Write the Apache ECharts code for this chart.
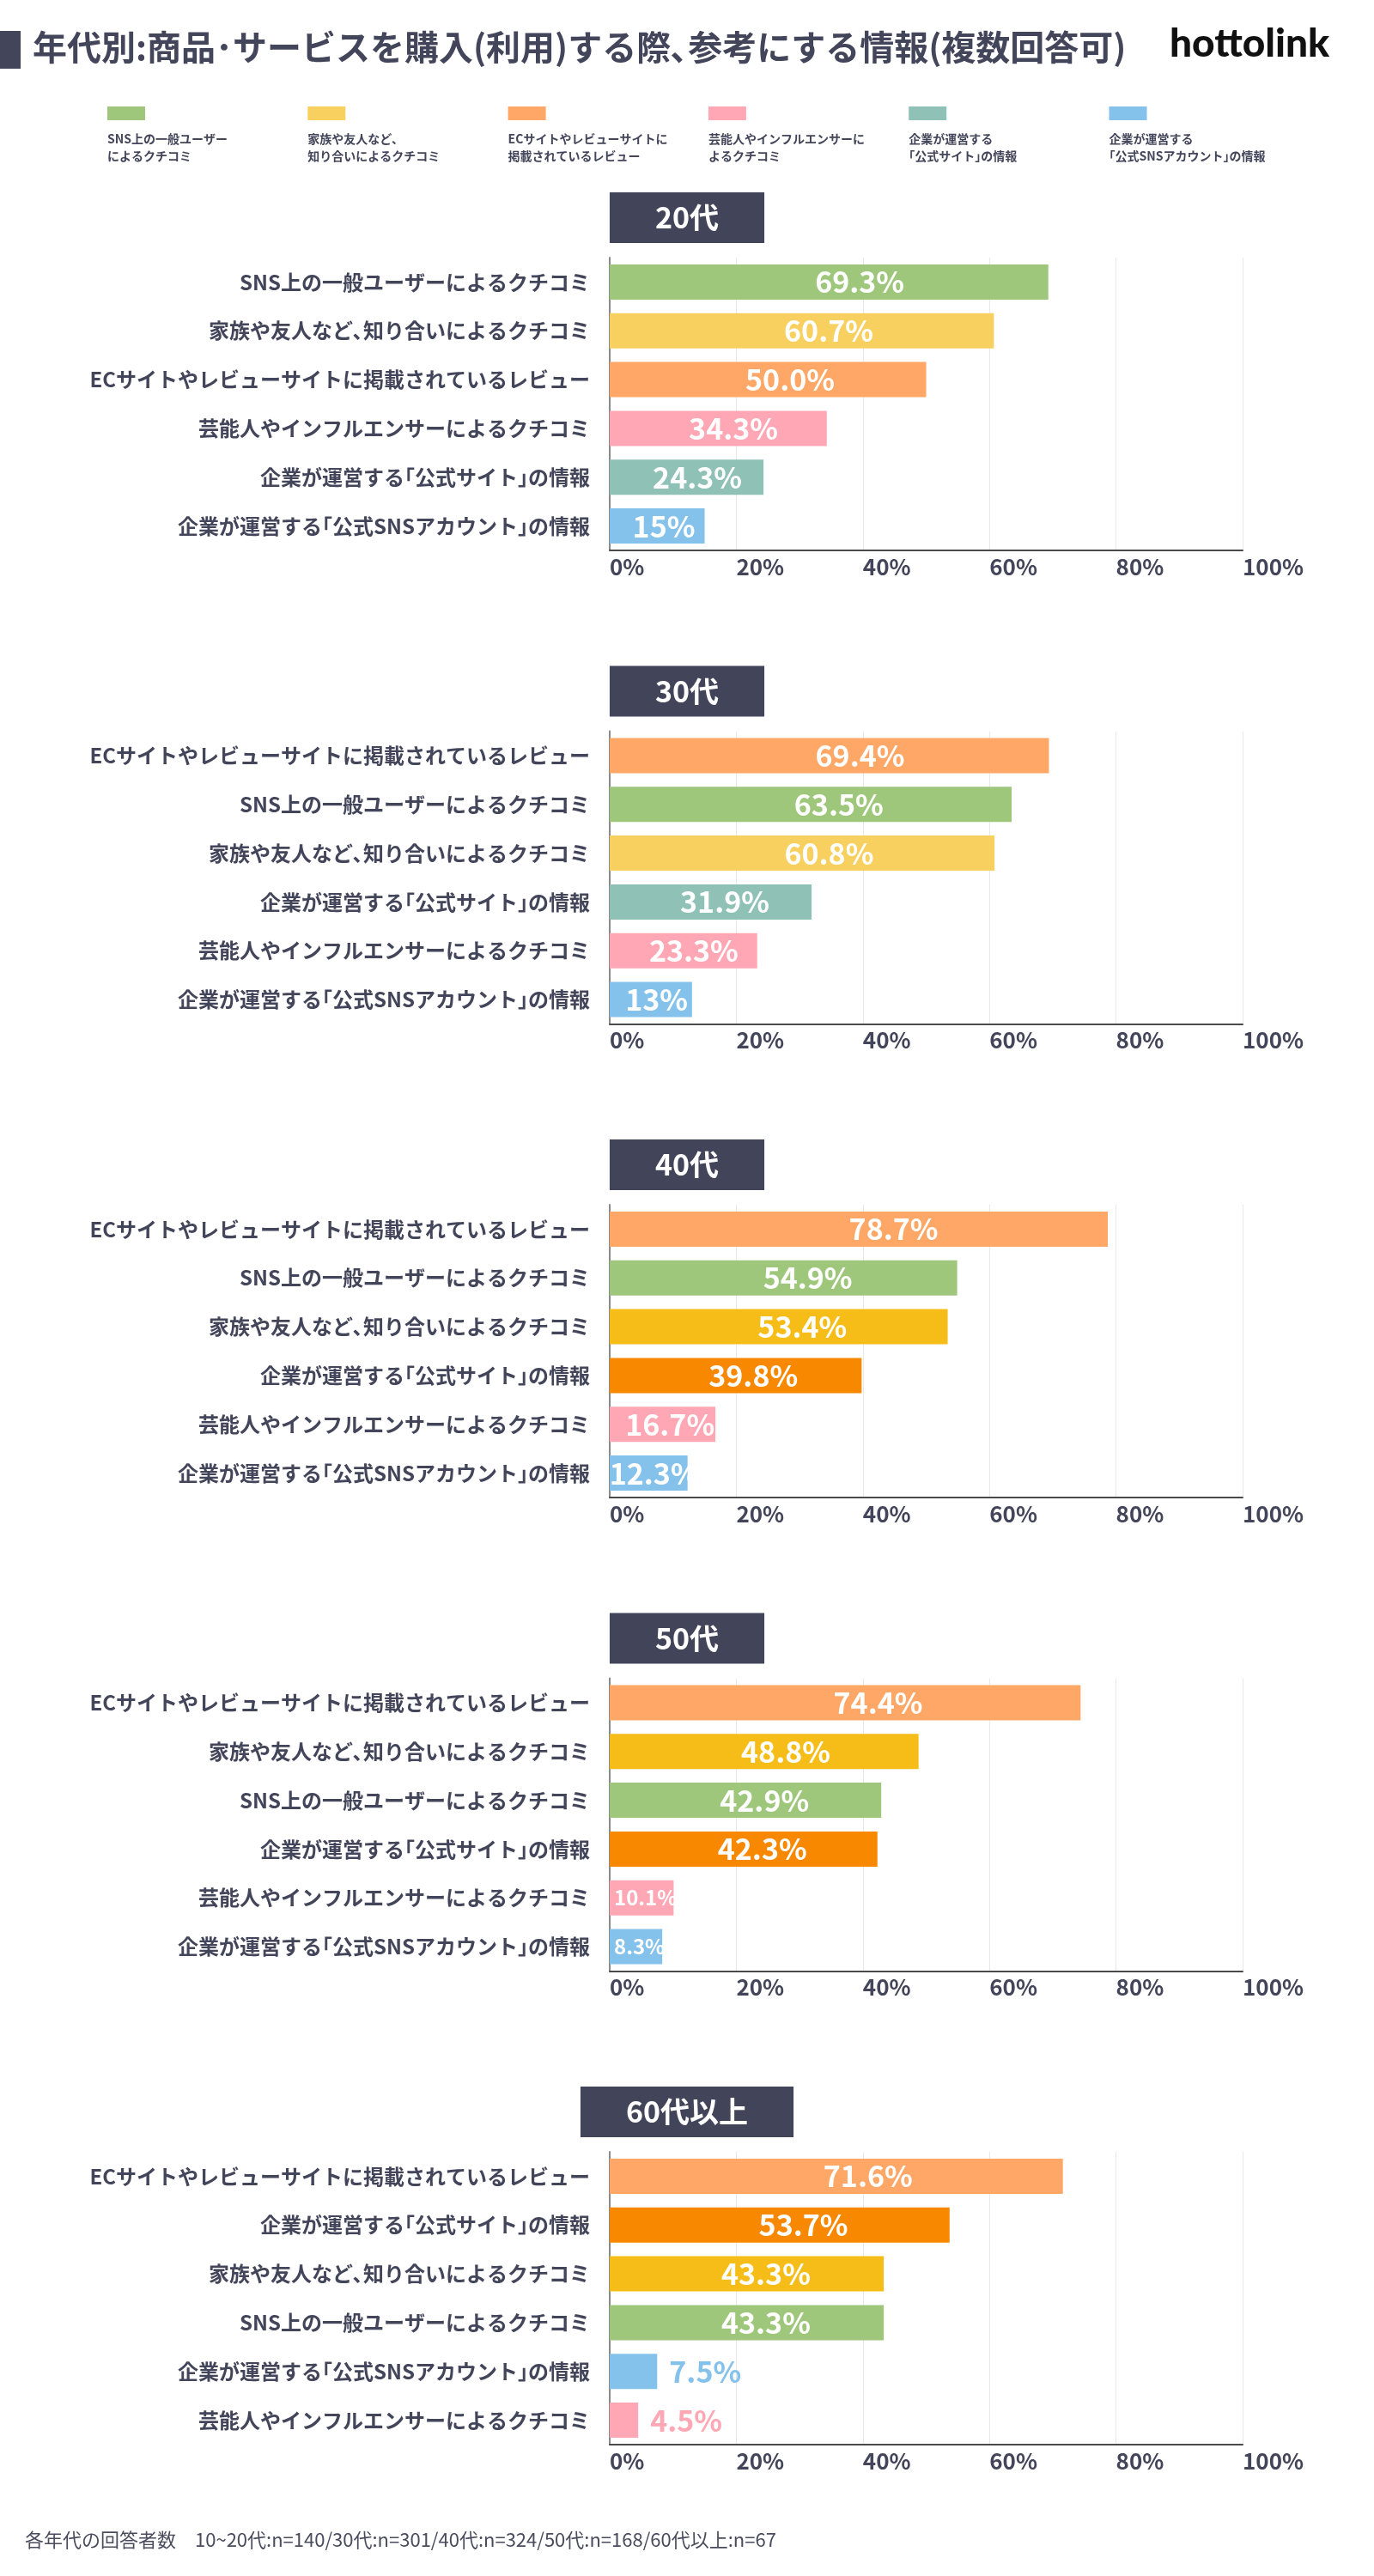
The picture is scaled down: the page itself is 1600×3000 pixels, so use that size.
<!DOCTYPE html>
<html lang="ja">
<head>
<meta charset="utf-8">
<title>年代別：参考にする情報</title>
<script src="https://cdn.jsdelivr.net/npm/echarts@6/dist/echarts.min.js"></script>
<style>
  html, body { margin: 0; padding: 0; background: #fff; }
  #chart { width: 1600px; height: 3000px; }
</style>
</head>
<body>
<div id="chart"></div>
<script>
// 項目名
const SNS = 'SNS上の一般ユーザーによるクチコミ';
const FAMILY = '家族や友人など、知り合いによるクチコミ';
const EC = 'ECサイトやレビューサイトに掲載されているレビュー';
const INFLUENCER = '芸能人やインフルエンサーによるクチコミ';
const SITE = '企業が運営する「公式サイト」の情報';
const OFFICIAL_SNS = '企業が運営する「公式SNSアカウント」の情報';

// 年代ごとのデータ（上から順）
const ages = ['20代', '30代', '40代', '50代', '60代以上'];

const cats20 = [SNS, FAMILY, EC, INFLUENCER, SITE, OFFICIAL_SNS];
const vals20 = ['69.3', '60.7', '50.0', '34.3', '24.3', '15'];

const cats30 = [EC, SNS, FAMILY, SITE, INFLUENCER, OFFICIAL_SNS];
const vals30 = ['69.4', '63.5', '60.8', '31.9', '23.3', '13'];

const cats40 = [EC, SNS, FAMILY, SITE, INFLUENCER, OFFICIAL_SNS];
const vals40 = ['78.7', '54.9', '53.4', '39.8', '16.7', '12.3'];

const cats50 = [EC, FAMILY, SNS, SITE, INFLUENCER, OFFICIAL_SNS];
const vals50 = ['74.4', '48.8', '42.9', '42.3', '10.1', '8.3'];

const cats60 = [EC, SITE, FAMILY, SNS, OFFICIAL_SNS, INFLUENCER];
const vals60 = ['71.6', '53.7', '43.3', '43.3', '7.5', '4.5'];

const xTicks = [0, 20, 40, 60, 80, 100];

// 凡例
const legendNames = [
  'SNS上の一般ユーザー\nによるクチコミ',
  '家族や友人など、\n知り合いによるクチコミ',
  'ECサイトやレビューサイトに\n掲載されているレビュー',
  '芸能人やインフルエンサーに\nよるクチコミ',
  '企業が運営する\n「公式サイト」の情報',
  '企業が運営する\n「公式SNSアカウント」の情報'
];

const heading = '年代別：商品・サービスを購入（利用）する際、参考にする情報（複数回答可）';
const note = '各年代の回答者数　10～20代：n=140／30代：n=301／40代：n=324／50代：n=168／60代以上：n=67';

// 色
const INK = '#43455a';
const colorsLight = {};
colorsLight[SNS] = '#9ec77b';
colorsLight[FAMILY] = '#f8d05f';
colorsLight[EC] = '#ffa766';
colorsLight[INFLUENCER] = '#ffa7b4';
colorsLight[SITE] = '#8fc1b6';
colorsLight[OFFICIAL_SNS] = '#84c2ec';
// 40代以降は一部の色が濃い
const colorsDark = Object.assign({}, colorsLight);
colorsDark[FAMILY] = '#f6bd19';
colorsDark[SITE] = '#f78800';

const legendColors = [SNS, FAMILY, EC, INFLUENCER, SITE, OFFICIAL_SNS].map(c => colorsLight[c]);

const groups = [
  { cats: cats20, vals: vals20, colors: colorsLight },
  { cats: cats30, vals: vals30, colors: colorsLight },
  { cats: cats40, vals: vals40, colors: colorsDark },
  { cats: cats50, vals: vals50, colors: colorsDark },
  { cats: cats60, vals: vals60, colors: colorsDark }
];

const FONT = '"Noto Sans CJK JP", "Noto Sans", sans-serif';
const GRID_TOP = 300;
const GRID_STEP = 551.5;

// 約物を詰めて表示（canvasではpaltが使えないので半角形に置き換える）
const PALT = { '「': '｢', '」': '｣', '、': '､', '・': '･', '：': ':', '（': '(', '）': ')', '／': '/', '～': '~' };
function palt(s) {
  return s.replace(/[「」、・：（）／～]/g, ch => PALT[ch]);
}

function barLabel(text, color) {
  const v = Number(text);
  if (v < 8) {
    // 短いバーは外側に
    return { show: true, position: 'right', distance: 14, formatter: text + '%',
      color: color, fontSize: 34, fontWeight: 'bold', fontFamily: FONT };
  }
  if (v < 11) {
    return { show: true, position: 'insideLeft', distance: 5, formatter: text + '%',
      color: '#fff', fontSize: 24, fontWeight: 'bold', fontFamily: FONT };
  }
  return { show: true, position: ['57%', '50%'], align: 'center', verticalAlign: 'middle',
    formatter: text + '%', color: '#fff', fontSize: 34, fontWeight: 'bold', fontFamily: FONT };
}

const chart = echarts.init(document.getElementById('chart'));

const grids = [], xAxes = [], yAxes = [], series = [], titles = [];
groups.forEach((g, i) => {
  const top = GRID_TOP + i * GRID_STEP;
  grids.push({ left: 710, width: 737, top: top, height: 341 });
  titles.push({
    text: ages[i], left: 'center', top: top - 76,
    backgroundColor: '#42445a', padding: [10, 53],
    textStyle: { color: '#fff', fontSize: 34, fontWeight: 'bold', lineHeight: 39, fontFamily: FONT }
  });
  xAxes.push({
    type: 'value', gridIndex: i, min: xTicks[0], max: xTicks[xTicks.length - 1], interval: 20,
    axisLine: { show: true, lineStyle: { color: '#4a4a4a', width: 2 } },
    axisTick: { show: false },
    splitLine: { show: true, lineStyle: { color: '#e8e8e8', width: 1 } },
    axisLabel: { formatter: '{value}%', align: 'left', margin: 6, color: INK,
      fontSize: 26, fontWeight: 'bold', fontFamily: FONT }
  });
  yAxes.push({
    type: 'category', gridIndex: i, data: g.cats, inverse: true,
    axisLine: { show: true, lineStyle: { color: '#8a8a8a', width: 2 } },
    axisTick: { show: false },
    axisLabel: { margin: 23, color: INK, fontSize: 24, fontWeight: 'bold', fontFamily: FONT,
      formatter: palt }
  });
  series.push({
    type: 'bar', xAxisIndex: i, yAxisIndex: i, barWidth: 41,
    data: g.vals.map((s, k) => ({
      value: Number(s),
      itemStyle: { color: g.colors[g.cats[k]] },
      label: barLabel(s, g.colors[g.cats[k]])
    }))
  });
});

// 見出し・凡例・注記
const graphics = [
  { type: 'rect', left: 0, top: 36, shape: { width: 24, height: 44 }, style: { fill: INK } },
  { type: 'text', left: 38, top: 35, style: {
      text: palt(heading), fill: INK, font: 'bold 40px ' + FONT } },
  { type: 'text', left: 1362, top: 28, style: {
      text: 'hottolink', fill: '#111', font: '900 46px Lato, sans-serif' } },
  { type: 'text', left: 29, top: 2947, style: {
      text: palt(note), fill: '#4a4c5e', font: '22px ' + FONT } }
];
legendNames.forEach((name, i) => {
  const x = 125 + i * 233.3;
  graphics.push({ type: 'rect', left: x, top: 124, shape: { width: 44, height: 16 },
    style: { fill: legendColors[i] } });
  graphics.push({ type: 'text', left: x, top: 152, style: {
    text: palt(name), fill: INK, font: 'bold 14px ' + FONT, lineHeight: 20 } });
});

chart.setOption({
  animation: false,
  backgroundColor: '#fff',
  title: titles,
  grid: grids,
  xAxis: xAxes,
  yAxis: yAxes,
  series: series,
  graphic: graphics
});
</script>
</body>
</html>
